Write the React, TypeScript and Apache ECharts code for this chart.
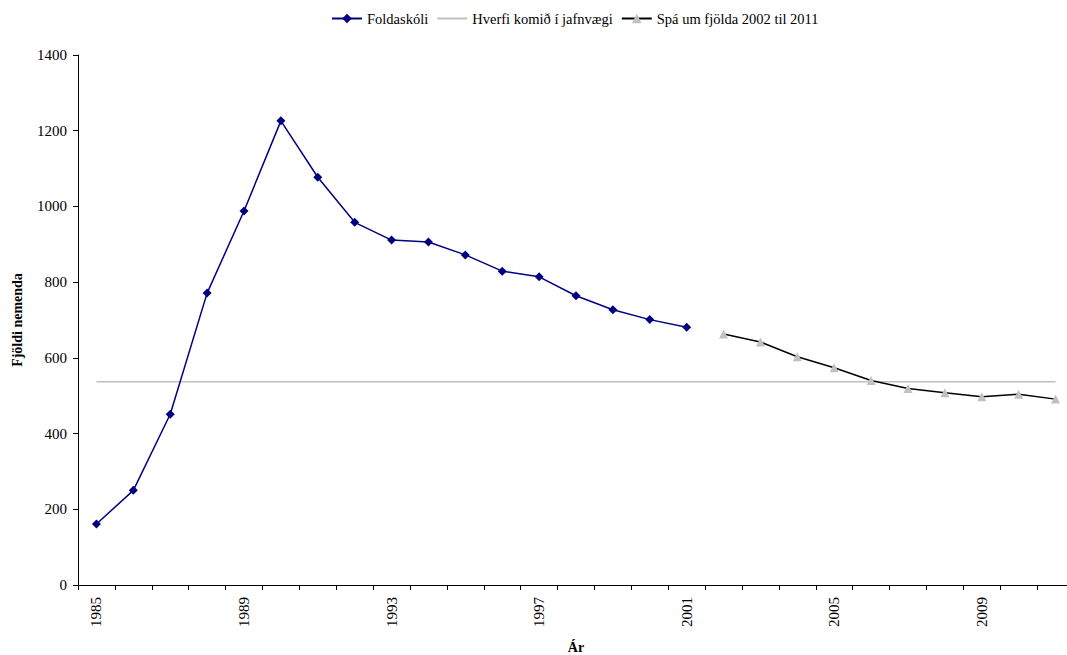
import React, { useEffect, useRef } from "react";
import * as echarts from "echarts";

const years: string[] = [
  "1985", "1986", "1987", "1988", "1989", "1990", "1991", "1992", "1993",
  "1994", "1995", "1996", "1997", "1998", "1999", "2000", "2001", "2002",
  "2003", "2004", "2005", "2006", "2007", "2008", "2009", "2010", "2011",
];

// Foldaskóli 1985–2001
const foldaskoli: (number | null)[] = [
  161, 250, 451, 771, 988, 1226, 1077, 958, 911, 906, 872, 829, 814, 764,
  727, 701, 681,
];

// Forecast 2002–2011
const spaYears: string[] = ["2002", "2003", "2004", "2005", "2006", "2007", "2008", "2009", "2010", "2011"];
const spaValues: number[] = [663, 642, 603, 574, 540, 519, 508, 497, 504, 491];

// Equilibrium level
const jafnvaegi = 537;

const yTicks = { min: 0, max: 1400, interval: 200 };

const FONT = "'Liberation Serif', 'Times New Roman', serif";

export default function App() {
  const ref = useRef<HTMLDivElement>(null);

  useEffect(() => {
    if (!ref.current) return;
    const chart = echarts.init(ref.current, undefined, { renderer: "svg" });

    const foldaData = years.map((_, i) => (i < foldaskoli.length ? foldaskoli[i] : null));
    const spaData = years.map((y) => {
      const idx = spaYears.indexOf(y);
      return idx >= 0 ? spaValues[idx] : null;
    });
    const eqData = years.map(() => jafnvaegi);

    chart.setOption({
      animation: false,
      backgroundColor: "#ffffff",
      textStyle: { fontFamily: FONT, color: "#000" },
      legend: {
        top: 6,
        left: 326,
        itemWidth: 30,
        itemHeight: 12,
        itemGap: 8,
        textStyle: { fontFamily: FONT, fontSize: 14.5, color: "#000" },
        data: [
          { name: "Foldaskóli" },
          { name: "Hverfi komið í jafnvægi", itemStyle: { opacity: 0 } },
          { name: "Spá um fjölda 2002 til 2011" },
        ],
      },
      grid: {
        left: 78,
        top: 55,
        bottom: 70,
        right: -7,
        containLabel: false,
        outerBoundsMode: "none",
      },
      xAxis: {
        type: "category",
        data: years,
        boundaryGap: true,
        name: "Ár",
        nameLocation: "middle",
        nameGap: 55,
        nameTextStyle: { fontFamily: FONT, fontSize: 14, fontWeight: "bold", color: "#000" },
        axisLine: { lineStyle: { color: "#000", width: 1 } },
        axisTick: { show: true, interval: 0, length: 5, alignWithLabel: false, lineStyle: { color: "#000" } },
        axisLabel: {
          interval: 3,
          rotate: 90,
          margin: 12,
          fontFamily: FONT,
          fontSize: 15,
          color: "#000",
        },
        splitLine: { show: false },
      },
      yAxis: {
        type: "value",
        min: yTicks.min,
        max: yTicks.max,
        interval: yTicks.interval,
        name: "Fjöldi nemenda",
        nameLocation: "middle",
        nameGap: 54,
        nameRotate: 90,
        nameTextStyle: { fontFamily: FONT, fontSize: 14, fontWeight: "bold", color: "#000" },
        axisLine: { show: true, lineStyle: { color: "#000", width: 1 } },
        axisTick: { show: true, length: 5, lineStyle: { color: "#000" } },
        axisLabel: {
          margin: 11,
          fontFamily: FONT,
          fontSize: 15,
          color: "#000",
          formatter: (v: number) => String(v),
        },
        splitLine: { show: false },
      },
      series: [
        {
          name: "Foldaskóli",
          type: "line",
          data: foldaData,
          symbol: "diamond",
          symbolSize: 9,
          showSymbol: true,
          connectNulls: false,
          itemStyle: { color: "#000080" },
          lineStyle: { color: "#000080", width: 1.5 },
          z: 3,
        },
        {
          name: "Hverfi komið í jafnvægi",
          type: "line",
          data: eqData,
          symbol: "none",
          itemStyle: { color: "#c0c0c0" },
          lineStyle: { color: "#c0c0c0", width: 1.5 },
          z: 1,
        },
        {
          name: "Spá um fjölda 2002 til 2011",
          type: "line",
          data: spaData,
          symbol: "triangle",
          symbolSize: 9,
          showSymbol: true,
          itemStyle: { color: "#c0c0c0" },
          lineStyle: { color: "#000000", width: 1.5 },
          z: 2,
        },
      ],
    });

    return () => chart.dispose();
  }, []);

  return (
    <div
      ref={ref}
      style={{ position: "absolute", left: 0, top: 0, width: 1067, height: 655 }}
    />
  );
}
